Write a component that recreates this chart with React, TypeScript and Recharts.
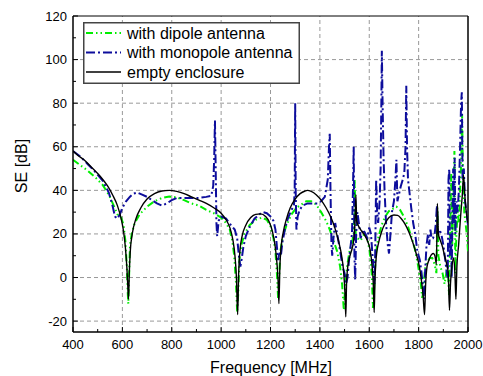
import { LineChart, Line, XAxis, YAxis, ReferenceLine } from "recharts";

// empty enclosure (black)
const emptyFreq = [400, 420, 450, 480, 510, 540, 560, 580, 595, 605, 612, 618, 622, 625, 628, 632, 640, 655, 675, 700, 730, 760, 790, 820, 850, 880, 910, 940, 970, 1000, 1020, 1035, 1048, 1056, 1062, 1067, 1071, 1076, 1085, 1100, 1120, 1140, 1160, 1180, 1195, 1208, 1218, 1225, 1231, 1234, 1238, 1243, 1252, 1265, 1280, 1300, 1320, 1340, 1350, 1365, 1385, 1405, 1425, 1445, 1460, 1475, 1488, 1496, 1502, 1505, 1508, 1513, 1522, 1532, 1538, 1542, 1546, 1549, 1555, 1565, 1578, 1592, 1603, 1611, 1616, 1620, 1623, 1628, 1638, 1650, 1665, 1680, 1700, 1715, 1730, 1745, 1760, 1775, 1790, 1803, 1812, 1818, 1824, 1828, 1834, 1842, 1852, 1860, 1866, 1872, 1876, 1880, 1888, 1897, 1905, 1914, 1920, 1925, 1929, 1935, 1942, 1947, 1951, 1955, 1962, 1970, 1977, 1982, 1987, 1993, 2000];
const emptySE = [58, 56, 53.5, 50, 46.5, 42, 38, 33, 27, 21, 14, 5, -4, -10, 2, 12, 20, 27, 32, 36, 38.5, 39.7, 40, 39.5, 38.5, 37, 35.5, 34, 32, 29.5, 26.5, 23, 17, 10, 0, -17, 2, 12, 19, 24, 27.5, 29, 29.2, 28, 25.5, 21, 15, 8, -2, -12, 5, 14, 21, 27, 32, 36, 38.5, 39.7, 40, 39.5, 38, 35.5, 32, 27.5, 23, 17, 10, 3, -8, -18, -3, 5, 10, 14, 18, 25, 38, 26, 24, 22, 20, 17, 13, 6, -2, -16, -2, 9, 16, 21, 25, 27.5, 28.7, 28.5, 27, 24.5, 21, 16.5, 11, 5, -2, -8, -17, -4, 5, 8, 10.5, 11, 10, 6, 34, 20, 17, 14, 10, 6, 2, -15, -3, 5, 9, 2, -10, 5, 15, 28, 38, 47, 38, 30, 25];

// with dipole antenna (green)
const dipoleFreq = [400, 430, 460, 490, 520, 545, 565, 580, 595, 605, 612, 618, 621, 624, 627, 631, 638, 650, 670, 700, 730, 760, 790, 820, 850, 880, 910, 940, 970, 1000, 1020, 1035, 1045, 1053, 1060, 1065, 1069, 1074, 1082, 1095, 1115, 1140, 1165, 1185, 1200, 1212, 1220, 1227, 1231, 1235, 1240, 1250, 1265, 1285, 1305, 1325, 1345, 1365, 1385, 1405, 1425, 1440, 1455, 1470, 1482, 1490, 1497, 1502, 1510, 1520, 1530, 1537, 1541, 1545, 1552, 1565, 1580, 1592, 1602, 1610, 1615, 1620, 1626, 1636, 1650, 1665, 1680, 1695, 1710, 1725, 1740, 1755, 1770, 1785, 1797, 1808, 1815, 1820, 1826, 1835, 1845, 1855, 1865, 1872, 1876, 1880, 1888, 1897, 1905, 1912, 1918, 1923, 1928, 1932, 1936, 1941, 1945, 1949, 1953, 1958, 1963, 1968, 1973, 1976, 1980, 1985, 1990, 1995, 2000];
const dipoleSE = [54, 51.5, 49, 46, 42.5, 38, 33, 29, 27.5, 24, 17, 5, -5, -12, 0, 15, 20, 25, 29, 32.5, 35, 36.5, 37.2, 36.8, 35.5, 34, 33, 31, 29.5, 27.5, 25, 22, 17, 10, -2, -16, -8, 8, 15, 20, 24, 26.5, 27.5, 26.5, 23.5, 18, 12, 0, -10, 0, 12, 19, 24, 29, 32, 33.5, 35, 35, 33.5, 30, 26, 22, 17, 12, 5, -3, -15, -5, 5, 12, 16, 20, 45, 20, 18, 17, 20, 18, 12, 2, -14, -5, 10, 18, 24, 28, 30.5, 31.5, 32.5, 31, 28, 24, 19, 13, 6, -2, -10, -4, 4, 7, 9, 9, 6, 2, 32, 10, 5, 2, -3, 2, 5, -8, 20, 48, 15, 35, 58, 2, 20, 30, 25, 40, 55, 75, 45, 30, 25, 20, 12];

// with monopole antenna (blue)
const monoFreq = [400, 430, 460, 490, 520, 545, 560, 570, 580, 590, 600, 615, 630, 645, 660, 680, 700, 720, 740, 760, 780, 800, 820, 850, 880, 910, 940, 960, 968, 972, 975, 978, 981, 984, 990, 1000, 1020, 1040, 1055, 1065, 1072, 1078, 1084, 1090, 1100, 1115, 1135, 1155, 1170, 1185, 1200, 1212, 1220, 1226, 1231, 1236, 1242, 1248, 1258, 1270, 1285, 1295, 1298, 1300, 1302, 1305, 1310, 1318, 1330, 1350, 1370, 1390, 1405, 1420, 1432, 1437, 1440, 1443, 1447, 1450, 1455, 1462, 1470, 1478, 1485, 1492, 1500, 1506, 1512, 1518, 1525, 1530, 1534, 1537, 1540, 1543, 1547, 1552, 1558, 1565, 1575, 1585, 1592, 1600, 1607, 1612, 1617, 1621, 1624, 1628, 1632, 1636, 1642, 1646, 1649, 1651, 1654, 1658, 1662, 1668, 1675, 1680, 1686, 1692, 1700, 1706, 1710, 1714, 1720, 1728, 1736, 1742, 1747, 1750, 1753, 1757, 1762, 1770, 1778, 1786, 1795, 1805, 1812, 1818, 1822, 1826, 1832, 1838, 1843, 1848, 1852, 1858, 1865, 1870, 1874, 1878, 1884, 1892, 1900, 1908, 1914, 1918, 1921, 1924, 1927, 1931, 1934, 1937, 1940, 1943, 1946, 1949, 1953, 1958, 1963, 1968, 1972, 1975, 1978, 1983, 1988, 1994, 2000];
const monoSE = [58, 55.5, 52, 48.5, 44.5, 39, 33, 28, 27, 29, 32, 35, 37, 38.5, 39, 38, 37, 35.5, 34, 33, 34, 35.5, 36.5, 36.5, 36.5, 36.5, 37, 37.5, 42, 55, 72, 50, 25, 19, 26, 28, 27, 24, 22, 18, 10, 5, 9, 14, 19, 23, 27, 29, 30, 29.5, 28, 26, 22, 14, 8, 12, 10, 16, 22, 27, 31, 33, 40, 80, 40, 22, 28, 31, 33, 34, 34, 34, 35, 37, 45, 60, 66, 40, 15, 10, 18, 25, 20, 15, 10, 5, 2, -3, 0, 8, 15, 20, 40, 60, 10, -1, 20, 30, 25, 18, 22, 20, 18, 23, 20, 12, 5, -3, 10, 45, 30, 25, 35, 50, 80, 104, 80, 55, 40, 25, 15, 11, 20, 30, 35, 45, 54, 35, 38, 42, 45, 48, 60, 88, 60, 45, 40, 32, 25, 20, 12, 8, 2, -5, -10, 2, 15, 20, 15, 22, 18, 18, 20, 25, 33, 20, 22, 20, 15, 8, 2, 0, 45, 50, 10, 20, 0, 30, 50, 25, 55, 20, 35, 30, 40, 60, 80, 85, 45, 50, 35, 30, 24];

const xMajor = [400, 600, 800, 1000, 1200, 1400, 1600, 1800, 2000];
const xMinor = [500, 700, 900, 1100, 1300, 1500, 1700, 1900];
const yMajor = [-20, 0, 20, 40, 60, 80, 100, 120];
const yMinor = [-10, 10, 30, 50, 70, 90, 110];

const toPoints = (fs: number[], vs: number[]) => fs.map((f, i) => ({ f, v: vs[i] }));

const GREEN = "#00ee00";
const BLUE = "#0d0d9c";
const GREEN_DASH = "7 3 1.5 3 1.5 3";
const BLUE_DASH = "9 3 2 3";
const FONT = "Arial, 'Liberation Sans', sans-serif";

const XTick = (props: any) => {
  const { x, y, payload } = props;
  const major = xMajor.includes(payload.value);
  return (
    <g>
      <line x1={x} x2={x} y1={y} y2={y - (major ? 5 : 3)} stroke="#000" strokeWidth={1} />
      {major && (
        <text x={x} y={y + 17} textAnchor="middle" fontSize={13} fontFamily={FONT} fill="#000">
          {payload.value}
        </text>
      )}
    </g>
  );
};

const YTick = (props: any) => {
  const { x, y, payload } = props;
  const major = yMajor.includes(payload.value);
  return (
    <g>
      <line x1={x} x2={x + (major ? 5 : 3)} y1={y} y2={y} stroke="#000" strokeWidth={1} />
      {major && (
        <text x={x - 6} y={y + 4.5} textAnchor="end" fontSize={13} fontFamily={FONT} fill="#000">
          {payload.value}
        </text>
      )}
    </g>
  );
};

const legendItems = [
  { label: "with dipole antenna", color: GREEN, dash: GREEN_DASH, width: 2 },
  { label: "with monopole antenna", color: BLUE, dash: BLUE_DASH, width: 2 },
  { label: "empty enclosure", color: "#000", dash: undefined, width: 1.4 },
];

const LegendBox = () => (
  <svg width={217} height={62} style={{ display: "block", position: "absolute", left: 83, top: 22 }}>
    <rect x={0.75} y={0.75} width={215.5} height={60.5} fill="#fff" stroke="#444" strokeWidth={1.5} />
    {legendItems.map((it, i) => (
      <g key={it.label}>
        <line x1={3} x2={38} y1={11 + i * 19.5} y2={11 + i * 19.5} stroke={it.color} strokeWidth={it.width} strokeDasharray={it.dash} />
        <text x={44} y={16.5 + i * 19.5} fontSize={16} fontFamily={FONT} fill="#000">
          {it.label}
        </text>
      </g>
    ))}
  </svg>
);

const AxisTitles = () => (
  <svg width={483} height={376} style={{ position: "absolute", left: 0, top: 0, pointerEvents: "none" }}>
    <text x={271} y={373} textAnchor="middle" fontSize={16} fontFamily={FONT} fill="#000">
      Frequency [MHz]
    </text>
    <text transform="translate(27,166) rotate(-90)" textAnchor="middle" fontSize={16} fontFamily={FONT} fill="#000">
      SE [dB]
    </text>
  </svg>
);

export default function App() {
  const grid = { stroke: "#999", strokeDasharray: "4 3", strokeWidth: 1 };
  return (
    <div style={{ position: "absolute", left: 0, top: 0, width: 483, height: 376, background: "#fff" }}>
      <LineChart width={483} height={376} margin={{ top: 16, right: 15, bottom: 43, left: 0 }}>
        <XAxis
          dataKey="f"
          type="number"
          height={1}
          domain={[400, 2000]}
          ticks={[...xMajor, ...xMinor].sort((a, b) => a - b)}
          interval={0}
          allowDataOverflow
          tickSize={0}
          tickMargin={0}
          tick={<XTick />}
          axisLine={{ stroke: "#000", strokeWidth: 1.5 }}
        />
        <YAxis
          type="number"
          width={73}
          domain={[-25, 120]}
          ticks={[...yMajor, ...yMinor].sort((a, b) => a - b)}
          interval={0}
          allowDataOverflow
          tickSize={0}
          tickMargin={0}
          tick={<YTick />}
          axisLine={{ stroke: "#000", strokeWidth: 1.5 }}
        />
        {xMajor.slice(1, -1).map((v) => (
          <ReferenceLine key={"x" + v} x={v} {...grid} />
        ))}
        {yMajor.slice(0, -1).map((v) => (
          <ReferenceLine key={"y" + v} y={v} {...grid} />
        ))}
        <ReferenceLine y={120} stroke="#000" strokeWidth={1} />
        <ReferenceLine x={2000} stroke="#000" strokeWidth={1.5} />
        <Line data={toPoints(dipoleFreq, dipoleSE)} dataKey="v" type="linear" stroke={GREEN} strokeWidth={2} strokeDasharray={GREEN_DASH} dot={false} isAnimationActive={false} />
        <Line data={toPoints(monoFreq, monoSE)} dataKey="v" type="linear" stroke={BLUE} strokeWidth={2} strokeDasharray={BLUE_DASH} dot={false} isAnimationActive={false} />
        <Line data={toPoints(emptyFreq, emptySE)} dataKey="v" type="monotone" stroke="#000" strokeWidth={1.4} dot={false} isAnimationActive={false} />
      </LineChart>
      <AxisTitles />
      <LegendBox />
    </div>
  );
}
